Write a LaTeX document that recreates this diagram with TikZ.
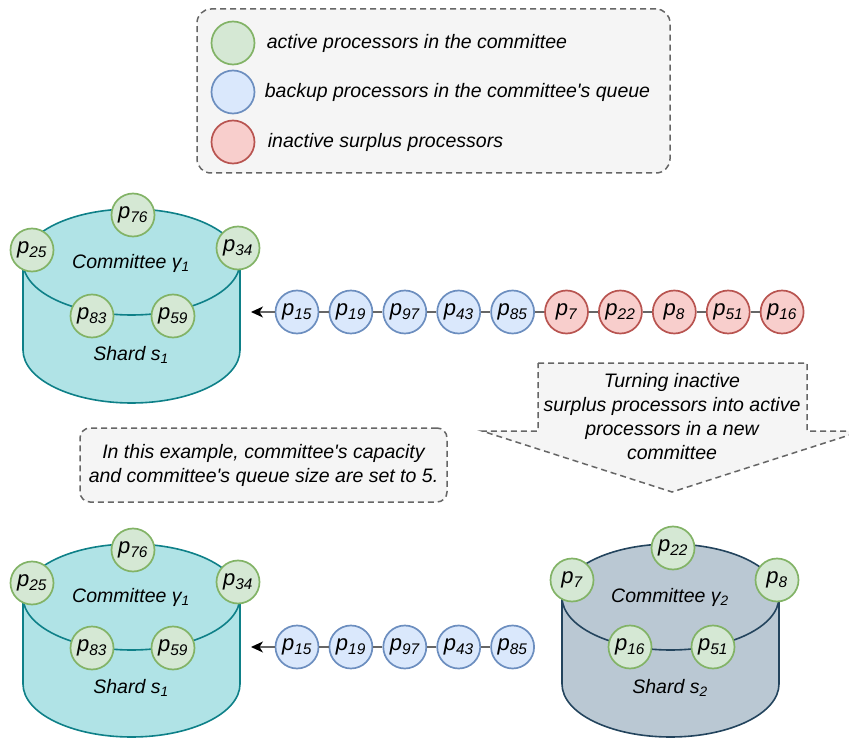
\documentclass[tikz,border=0pt]{standalone}
\usepackage{fontspec}
\setmainfont{Liberation Sans}
\usepackage{tikz}
\usetikzlibrary{positioning, arrows.meta}
\definecolor{actfill}{HTML}{D5E8D4}
\definecolor{actline}{HTML}{82B366}
\definecolor{bakfill}{HTML}{DAE8FC}
\definecolor{bakline}{HTML}{6C8EBF}
\definecolor{surfill}{HTML}{F8CECC}
\definecolor{surline}{HTML}{B85450}
\definecolor{shaonefill}{HTML}{B0E3E6}
\definecolor{shaoneline}{HTML}{0E8088}
\definecolor{shatwofill}{HTML}{BAC8D3}
\definecolor{shatwoline}{HTML}{23445D}
\definecolor{notefill}{HTML}{F5F5F5}
\definecolor{noteline}{HTML}{666666}
\tikzset{proc node/.style={circle, draw, line width=1.7pt, minimum size=43pt, inner sep=0pt, font=\itshape\fontsize{22}{26}\selectfont},
  active node/.style={proc node, fill=actfill, draw=actline},
  backup node/.style={proc node, fill=bakfill, draw=bakline},
  surplus node/.style={proc node, fill=surfill, draw=surline},
  shard one/.style={line width=1.6pt, draw=shaoneline, fill=shaonefill},
  shard two/.style={line width=1.6pt, draw=shatwoline, fill=shatwofill},
  note box/.style={draw=noteline, fill=notefill, line width=1.5pt, dash pattern=on 6pt off 4pt},
  chain line/.style={draw=black!60, line width=1.3pt},
  queue arrow/.style={chain line, -{Stealth[length=12pt, width=11pt, inset=3.5pt, color=black]}},}

\begin{document}
\begin{tikzpicture}[x=1pt, y=1pt, node distance=9.2pt, font=\itshape\fontsize{19.5}{24}\selectfont]
        \useasboundingbox (0,0) rectangle (849,-738);
        % Legend
        \node[note box, rounded corners=14pt, minimum width=473pt, minimum height=164pt] (legend) at (433.5,-91) {};
        \node[active node] (l1) at (233,-43) {};
        \node[backup node] (l2) at (233,-92) {};
        \node[surplus node] (l3) at (233,-142) {};
        \node [right = 8pt of l1] (t1) {active processors in the committee};
        \node [right = 6pt of l2] (t2) {backup processors in the committee\textquotesingle s queue};
        \node [right = 9pt of l3] (t3) {inactive surplus processors};
        % Shards
        \draw[shard one] (23,-262) -- (23,-350) arc[start angle=180, end angle=360, x radius=108.5pt, y radius=53pt] -- (240,-262) arc[start angle=0, end angle=180, x radius=108.5pt, y radius=53pt] -- cycle;
        \draw[shard one, fill=none] (23,-262) arc[start angle=180, end angle=360, x radius=108.5pt, y radius=53pt];
        \draw[shard one] (23,-597) -- (23,-684) arc[start angle=180, end angle=360, x radius=108.5pt, y radius=53pt] -- (240,-597) arc[start angle=0, end angle=180, x radius=108.5pt, y radius=53pt] -- cycle;
        \draw[shard one, fill=none] (23,-597) arc[start angle=180, end angle=360, x radius=108.5pt, y radius=53pt];
        \draw[shard two] (562,-597) -- (562,-684) arc[start angle=180, end angle=360, x radius=108.5pt, y radius=53pt] -- (779,-597) arc[start angle=0, end angle=180, x radius=108.5pt, y radius=53pt] -- cycle;
        \draw[shard two, fill=none] (562,-597) arc[start angle=180, end angle=360, x radius=108.5pt, y radius=53pt];
        \node (com1) at (131,-263) {Committee γ\textsubscript{1}};
        \node (sh1) at (131,-355) {Shard s\textsubscript{1}};
        \node (com2) at (131,-597) {Committee γ\textsubscript{1}};
        \node (sh2) at (131,-688) {Shard s\textsubscript{1}};
        \node (com3) at (670,-597) {Committee γ\textsubscript{2}};
        \node (sh3) at (670,-688) {Shard s\textsubscript{2}};
        % Committees
        \node[active node] (a76) at (133,-215) {p\textsubscript{76}};
        \node[active node] (a25) at (32,-250) {p\textsubscript{25}};
        \node[active node] (a34) at (238,-248) {p\textsubscript{34}};
        \node[active node] (a83) at (92,-316) {p\textsubscript{83}};
        \node[active node] (a59) at (173,-316) {p\textsubscript{59}};
        \node[active node] (b76) at (133,-550) {p\textsubscript{76}};
        \node[active node] (b25) at (32,-583) {p\textsubscript{25}};
        \node[active node] (b34) at (238,-582) {p\textsubscript{34}};
        \node[active node] (b83) at (92,-648) {p\textsubscript{83}};
        \node[active node] (b59) at (173,-648) {p\textsubscript{59}};
        \node[active node] (c22) at (673,-548) {p\textsubscript{22}};
        \node[active node] (c7) at (572,-580) {p\textsubscript{7}};
        \node[active node] (c8) at (777,-580) {p\textsubscript{8}};
        \node[active node] (c16) at (630,-647) {p\textsubscript{16}};
        \node[active node] (c51) at (713,-647) {p\textsubscript{51}};
        % Queues
        \node[backup node] (q15) at (297,-312) {p\textsubscript{15}};
        \node[backup node] [right = of q15] (q19) {p\textsubscript{19}};
        \node[backup node] [right = of q19] (q97) {p\textsubscript{97}};
        \node[backup node] [right = of q97] (q43) {p\textsubscript{43}};
        \node[backup node] [right = of q43] (q85) {p\textsubscript{85}};
        \node[surplus node] [right = of q85] (s7) {p\textsubscript{7}};
        \node[surplus node] [right = of s7] (s22) {p\textsubscript{22}};
        \node[surplus node] [right = of s22] (s8) {p\textsubscript{8}};
        \node[surplus node] [right = of s8] (s51) {p\textsubscript{51}};
        \node[surplus node] [right = of s51] (s16) {p\textsubscript{16}};
        \node[backup node] (r15) at (297,-647) {p\textsubscript{15}};
        \node[backup node] [right = of r15] (r19) {p\textsubscript{19}};
        \node[backup node] [right = of r19] (r97) {p\textsubscript{97}};
        \node[backup node] [right = of r97] (r43) {p\textsubscript{43}};
        \node[backup node] [right = of r43] (r85) {p\textsubscript{85}};
        \coordinate (qend) at (251,-312);
        \coordinate (rend) at (251,-647);
        % Notes
        \draw[note box] (538,-363) -- (807,-363) -- (807,-431) -- (862,-431) -- (672,-492) -- (482,-431) -- (538,-431) -- cycle;
        \node[align=center] (turn) at (672,-417) {Turning inactive\\surplus processors into active\\processors in a new\\committee};
        \node[note box, rounded corners=10pt, minimum width=367pt, minimum height=74pt, align=center] (note) at (263.5,-465) {In this example, committee\textquotesingle s capacity\\and committee\textquotesingle s queue size are set to 5.};
        % Paths
        \path[chain line]
        (q15) edge (q19) (q19) edge (q97) (q97) edge (q43) (q43) edge (q85)
        (q85) edge (s7) (s7) edge (s22) (s22) edge (s8) (s8) edge (s51) (s51) edge (s16)
        (r15) edge (r19) (r19) edge (r97) (r97) edge (r43) (r43) edge (r85);
        \draw[queue arrow] (q15) -- (qend);
        \draw[queue arrow] (r15) -- (rend);
    \end{tikzpicture}
\end{document}
